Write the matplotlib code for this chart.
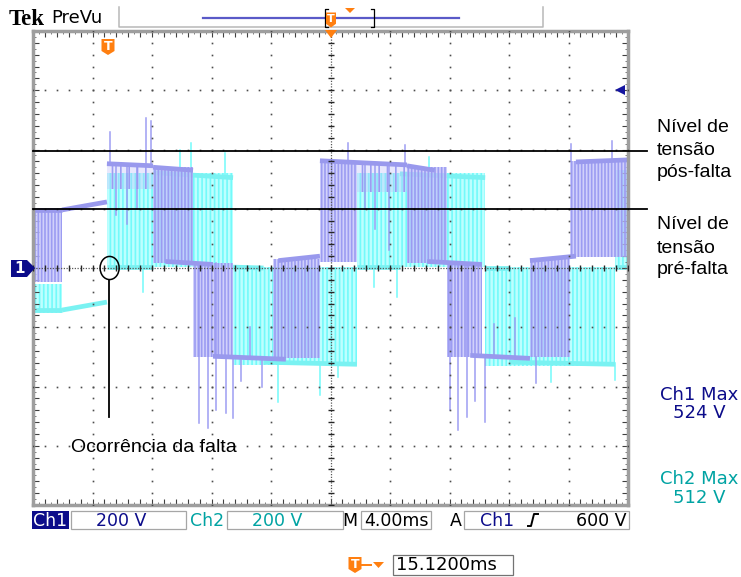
import matplotlib.pyplot as plt
import numpy as np
from matplotlib.patches import Rectangle, Polygon, Ellipse

plt.rcParams['hatch.linewidth'] = 1.2

W, H = 741, 577

# scope settings
TIME_PER_DIV = 4.0      # ms
VOLT_PER_DIV = 200      # V
N_HDIV, N_VDIV = 10, 8
TRIG_LEVEL = 600        # V
TRIG_DELAY = 15.12      # ms
CH1_MAX = 524
CH2_MAX = 512

# reference levels (V)
LEVEL_POST = 395
LEVEL_PRE = 200
FAULT_T = 5.1           # ms

# Ch1 trace: plateaus (t0, t1, v0, v1), switching bands (t0, t1, lo, hi),
# light ripple bands and isolated spikes (t, v_from, v_to)
ch1_plateaus = [
    (0.00, 1.95, 196, 196), (1.95, 4.97, 196, 223), (4.97, 8.07, 352, 345),
    (8.07, 10.76, 340, 330), (8.90, 12.10, 22, 12), (12.10, 17.00, -298, -308),
    (16.50, 19.29, 25, 40), (19.29, 25.14, 362, 348), (25.14, 27.00, 345, 330),
    (26.50, 30.18, 22, 12), (29.40, 33.41, -295, -305), (33.41, 36.50, 25, 40),
    (36.50, 40.00, 358, 365),
]
ch1_pwm = [
    (0.00, 1.95, -47, 204), (8.07, 10.76, 17, 340), (10.76, 13.45, -300, 17),
    (16.13, 19.29, -305, 30), (19.29, 21.78, 20, 362), (25.14, 27.83, 17, 340),
    (27.83, 30.18, -300, 17), (33.41, 36.10, -300, 35), (36.10, 40.00, 37, 362),
]
ch1_ripple = [
    (4.97, 8.07, 265, 350), (21.78, 25.14, 255, 355),
]
ch1_spikes = [
    (5.2, 350, 459), (7.6, 350, 505), (7.95, 348, 495), (21.2, 360, 422),
    (25.0, 350, 415), (36.2, 360, 420), (38.9, 362, 430),
    (5.6, 350, 180), (6.3, 350, 150), (7.0, 348, 200), (22.3, 355, 200),
    (23.0, 352, 130), (23.9, 350, 60),
    (11.14, 17, -523), (11.76, 17, -540), (12.32, 17, -479), (12.95, -300, -490),
    (13.45, -300, -506), (14.0, -300, -380), (15.4, -300, -400),
    (28.0, 17, -479), (28.6, 17, -547), (29.2, 17, -503), (29.7, -300, -449),
    (30.4, -300, -520), (33.8, -300, -388),
    (14.6, -300, -200), (31.0, -300, -190), (32.4, -300, -170),
]

# Ch2 trace
ch2_plateaus = [
    (0.00, 1.95, -142, -142), (1.95, 4.97, -142, -115), (4.97, 8.07, 3, 3),
    (8.07, 13.45, 322, 305), (13.45, 15.50, 3, 0), (15.50, 21.78, -318, -325),
    (21.78, 24.67, 3, 3), (24.67, 30.40, 318, 305), (30.40, 32.00, 0, 0),
    (32.00, 39.13, -318, -325), (39.13, 40.00, 3, 3),
]
ch2_pwm = [
    (0.00, 1.95, -152, -55), (4.97, 13.45, 3, 322), (13.45, 21.78, -328, 3),
    (21.78, 30.40, 3, 320), (30.40, 39.13, -330, 3), (39.13, 40.00, 3, 330),
]
ch2_ripple = []
ch2_spikes = [
    (9.9, 320, 398), (10.6, 320, 422), (12.9, 310, 388), (26.6, 318, 375),
    (7.4, 3, -81), (16.5, -318, -452), (19.3, -322, -429), (20.5, -320, -368),
    (22.9, 3, -64), (24.5, 3, -98), (34.8, -320, -385), (39.1, -320, -378),
]

NAVY = '#0C0C8A'
TEAL = '#00A3A3'
ORANGE = '#FF7F10'


def draw_channel(ax, plateaus, pwm, ripple, spikes, face, hatch_col, line_col, hatch, z):
    for t0, t1, lo, hi in pwm:
        ax.fill_between([t0, t1], lo, hi, facecolor=face, edgecolor=hatch_col,
                        hatch=hatch, linewidth=0, zorder=z)
    for t0, t1, lo, hi in ripple:
        ax.fill_between([t0, t1], lo, hi, facecolor=face[:3] + (face[3] * 0.5,),
                        edgecolor=hatch_col, hatch='||', linewidth=0, zorder=z)
    for t, a, b in spikes:
        ax.plot([t, t], [a, b], color=hatch_col, lw=1.1, zorder=z + 0.1)
    for t0, t1, v0, v1 in plateaus:
        ax.plot([t0, t1], [v0, v1], color=line_col, lw=3.4,
                solid_capstyle='butt', zorder=z + 0.2)


def tek_marker(ax, x, y, w, h, color=ORANGE, size=9):
    pts = [(x - w / 2, y - h / 2), (x + w / 2, y - h / 2), (x + w / 2, y + h / 4),
           (x, y + h / 2), (x - w / 2, y + h / 4)]
    ax.add_patch(Polygon(pts, closed=True, fc=color, ec='none', zorder=10))
    ax.text(x, y - 0.5, 'T', color='white', ha='center', va='center',
            fontsize=size, fontweight='bold', zorder=11)


fig = plt.figure(figsize=(W / 100, H / 100), dpi=100)

# scope screen
ax = fig.add_axes([33 / W, (H - 505) / H, 595 / W, 474 / H])
t_span = TIME_PER_DIV * N_HDIV
v_half = VOLT_PER_DIV * N_VDIV / 2
ax.set_xlim(0, t_span)
ax.set_ylim(-v_half, v_half)

draw_channel(ax, ch2_plateaus, ch2_pwm, ch2_ripple, ch2_spikes,
             (0.74, 1.0, 1.0, 1.0), (0.45, 0.98, 0.98, 1.0), (0.48, 0.95, 0.95), '||||', 1)
draw_channel(ax, ch1_plateaus, ch1_pwm, ch1_ripple, ch1_spikes,
             (0.76, 0.76, 0.98, 0.75), (0.60, 0.60, 0.95, 0.95), (0.60, 0.60, 0.93), '|||||', 2)

# graticule
fine_t = np.arange(0, t_span + 1e-9, TIME_PER_DIV / 5)
fine_v = np.arange(-v_half, v_half + 1e-9, VOLT_PER_DIV / 5)
t_mid = t_span / 2
for k in range(1, N_HDIV):
    x = k * TIME_PER_DIV
    if np.isclose(x, t_mid):
        continue
    ax.plot(np.full_like(fine_v, x), fine_v, ls='none', marker='s', ms=1.2,
            mew=0, color='0.3', zorder=4)
for k in range(1, N_VDIV):
    v = -v_half + k * VOLT_PER_DIV
    if np.isclose(v, 0):
        continue
    ax.plot(fine_t, np.full_like(fine_t, v), ls='none', marker='s', ms=1.2,
            mew=0, color='0.3', zorder=4)
ax.axvline(t_mid, color='0.35', lw=0.9, ls=(0, (1, 1.2)), zorder=4)
ax.axhline(0, color='0.35', lw=0.9, ls=(0, (1, 1.2)), zorder=4)
ax.plot(np.full_like(fine_v, t_mid), fine_v, ls='none', marker='_', ms=5,
        mew=1.0, color='0.15', zorder=4)
ax.plot(fine_t, np.zeros_like(fine_t), ls='none', marker='|', ms=5,
        mew=1.0, color='0.15', zorder=4)

ax.set_xticks(fine_t)
ax.set_yticks(fine_v)
ax.set_xticks(np.arange(0, t_span + 1e-9, TIME_PER_DIV / 10), minor=True)
ax.set_yticks(np.arange(-v_half, v_half + 1e-9, VOLT_PER_DIV / 10), minor=True)
ax.tick_params(which='major', direction='in', length=4, width=0.8, color='0.25',
               top=True, right=True, labelbottom=False, labelleft=False)
ax.tick_params(which='minor', direction='in', length=2, width=0.6, color='0.4',
               top=True, right=True)
for sp in ax.spines.values():
    sp.set_color('0.62')
    sp.set_linewidth(2.5)

# reference levels reaching out to the labels
ax.plot([0, 41.3], [LEVEL_POST, LEVEL_POST], color='black', lw=1.3, clip_on=False, zorder=6)
ax.plot([0, 41.3], [LEVEL_PRE, LEVEL_PRE], color='black', lw=1.3, clip_on=False, zorder=6)

# fault marker
ax.add_patch(Ellipse((FAULT_T + 0.05, 0), 1.28, 78, fill=False, ec='black', lw=1.1, zorder=6))
ax.plot([FAULT_T, FAULT_T], [-39, -503], color='black', lw=1.3, zorder=6)

# trigger level arrow
ax.plot([39.45], [TRIG_LEVEL], marker='<', ms=7, color='#1515A0', mew=0,
        clip_on=False, zorder=6)

# overlay in pixel units
ov = fig.add_axes([0, 0, 1, 1])
ov.set_xlim(0, W)
ov.set_ylim(H, 0)
ov.axis('off')

# header
ov.text(9, 25, 'Tek', family='Liberation Serif', fontweight='bold', fontsize=16.5,
        va='baseline')
ov.text(51, 23, 'PreVu', family='DejaVu Sans', fontsize=13, va='baseline')
ov.plot([119, 119, 543, 543], [7, 27, 27, 7], color='0.72', lw=1.1)
ov.plot([203, 459], [18, 18], color='#5A5AC8', lw=1.6)
ov.plot([328, 325, 325, 328], [9, 9, 27, 27], color='black', lw=0.9)
ov.plot([371, 374, 374, 371], [9, 9, 27, 27], color='black', lw=0.9)
tek_marker(ov, 331, 20, 10, 15, size=8)
ov.add_patch(Polygon([(345, 8), (355, 8), (350, 13)], fc=ORANGE, ec='none'))

# trigger position and trigger point markers
ov.add_patch(Polygon([(325, 30), (337, 30), (331, 38)], fc=ORANGE, ec='none', zorder=10))
tek_marker(ov, 108, 47, 13, 16)

# channel 1 ground marker
ov.add_patch(Polygon([(11, 260), (27, 260), (35, 268), (27, 277), (11, 277)],
                     fc=NAVY, ec='none'))
ov.text(20, 268.5, '1', color='white', ha='center', va='center', fontsize=11,
        fontweight='bold')

ov.text(71, 452, 'Ocorrência da falta', family='Liberation Sans', fontsize=14,
        va='baseline')

# level labels
for text, y in [('Nível de', 132), ('tensão', 155), ('pós-falta', 177),
                ('Nível de', 229), ('tensão', 253), ('pré-falta', 274)]:
    ov.text(657, y, text, family='Liberation Sans', fontsize=14, va='baseline')

# measurements
ov.text(699, 400, 'Ch1 Max', color=NAVY, ha='center', va='baseline', fontsize=13)
ov.text(699, 418, f'{CH1_MAX} V', color=NAVY, ha='center', va='baseline', fontsize=13)
ov.text(699, 484, 'Ch2 Max', color=TEAL, ha='center', va='baseline', fontsize=13)
ov.text(699, 503, f'{CH2_MAX} V', color=TEAL, ha='center', va='baseline', fontsize=13)

# status bar
by, bh, base = 511, 18, 526.5
ov.add_patch(Rectangle((32, by), 37, bh, fc=NAVY, ec='none'))
ov.text(50.5, base, 'Ch1', color='white', ha='center', va='baseline', fontsize=12.5)
for x0, w in [(71, 115), (227, 116), (361, 70), (464, 165)]:
    ov.add_patch(Rectangle((x0, by), w, bh, fc='white', ec='0.65', lw=0.9))
ov.text(121, base, f'{VOLT_PER_DIV} V', color=NAVY, ha='center', va='baseline', fontsize=12.5)
ov.text(207, base, 'Ch2', color=TEAL, ha='center', va='baseline', fontsize=12.5)
ov.text(277, base, f'{VOLT_PER_DIV} V', color=TEAL, ha='center', va='baseline', fontsize=12.5)
ov.text(350, base, 'M', color='black', ha='center', va='baseline', fontsize=12.5)
ov.text(396, base, f'{TIME_PER_DIV:.2f}ms', color='black', ha='center', va='baseline',
        fontsize=12.5)
ov.text(456, base, 'A', color='black', ha='center', va='baseline', fontsize=12.5)
ov.text(497, base, 'Ch1', color=NAVY, ha='center', va='baseline', fontsize=12.5)
ov.plot([528, 531, 534, 538], [526, 526, 514, 514], color='black', lw=1.4)
ov.text(626, base, f'{TRIG_LEVEL} V', color='black', ha='right', va='baseline', fontsize=12.5)

# trigger delay readout
tek_marker(ov, 355, 565, 13, 16)
ov.plot([362, 371], [565, 565], color=ORANGE, lw=1.4)
ov.add_patch(Polygon([(373, 562), (384, 562), (378.5, 568)], fc=ORANGE, ec='none'))
ov.add_patch(Rectangle((393, 555), 120, 20, fc='white', ec='0.45', lw=0.9))
ov.text(396, 570.5, f'{TRIG_DELAY:.4f}ms', color='black', va='baseline', fontsize=13)

fig.savefig('out.png', dpi=100)
